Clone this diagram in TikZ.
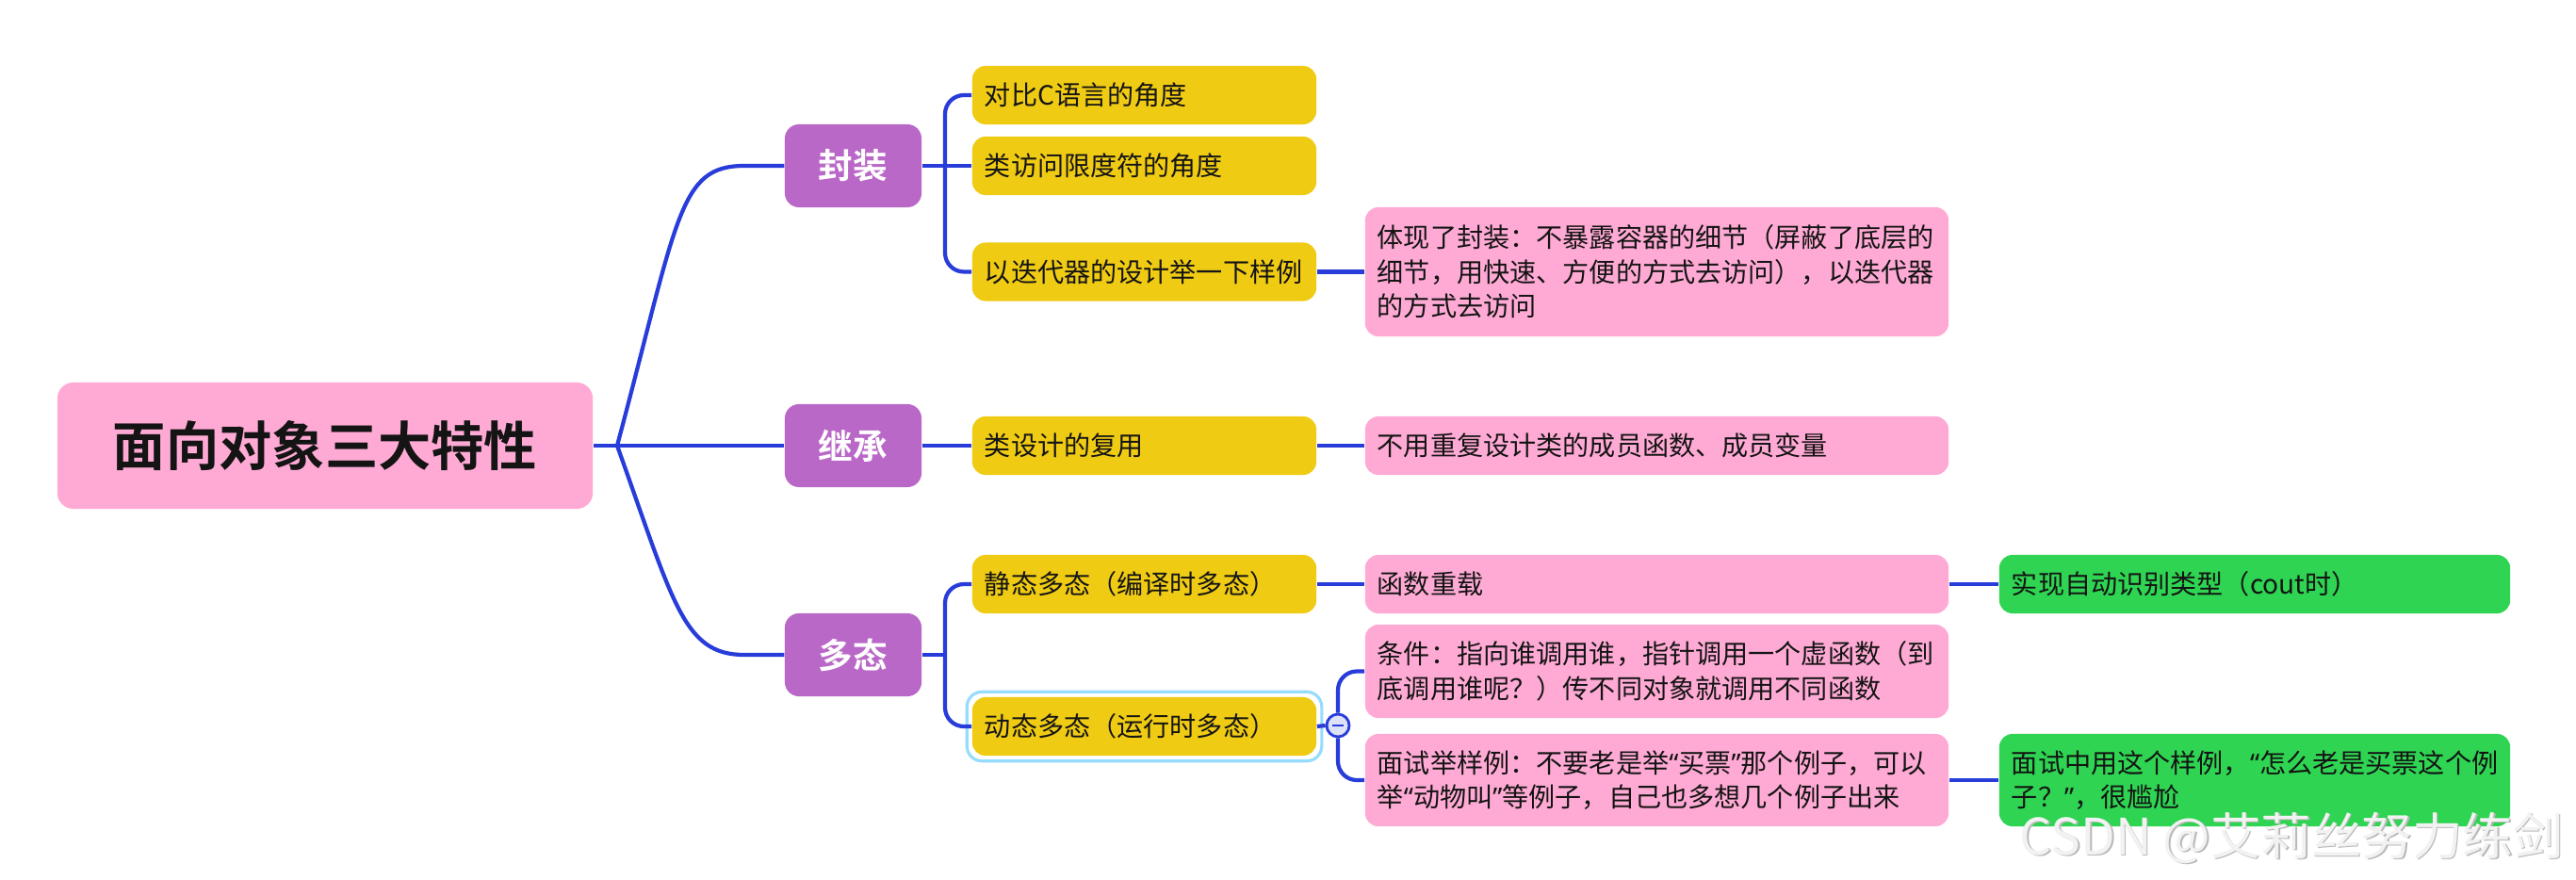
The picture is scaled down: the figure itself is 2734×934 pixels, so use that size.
\documentclass[tikz,border=0pt]{standalone}
\usepackage{fontspec}
\setmainfont{Noto Sans CJK SC}[BoldFont={Noto Sans CJK SC Bold}]
\newfontfamily\latq{Noto Sans}
\newcommand{\qt}[1]{{\latq #1}}
\usetikzlibrary{calc}
\definecolor{yel}{RGB}{240,203,20}
\definecolor{pinkc}{RGB}{255,170,212}
\definecolor{purp}{RGB}{186,104,200}
\definecolor{grn}{RGB}{46,212,82}
\definecolor{lineblue}{RGB}{40,60,218}
\definecolor{selc}{RGB}{150,220,255}
\definecolor{cfill}{RGB}{222,226,248}
\definecolor{txt}{RGB}{20,20,20}
\begin{document}
\begin{tikzpicture}[x=0.01cm,y=-0.01cm,
  conn/.style={draw=lineblue, line width=1.2pt},
  rootbox/.style={fill=pinkc, rounded corners=0.17cm, minimum width=5.68cm, minimum height=1.34cm, inner sep=0, font=\fontsize{16}{18}\selectfont\bfseries, text=txt},
  lonebox/.style={fill=purp, rounded corners=0.15cm, minimum width=1.45cm, minimum height=0.88cm, inner sep=0, font=\fontsize{10.4}{12}\selectfont\bfseries, text=white},
  ltwobox/.style={fill=yel, rounded corners=0.14cm, text width=3.39cm, inner xsep=0.13cm, inner ysep=0, minimum height=0.62cm, align=left, font=\fontsize{8}{10.4}\selectfont, text=txt},
  pbox/.style={fill=pinkc, rounded corners=0.14cm, text width=5.93cm, inner xsep=0.13cm, inner ysep=0, minimum height=0.62cm, align=left, font=\fontsize{8}{10.4}\selectfont, text=txt},
  gbox/.style={fill=grn, rounded corners=0.14cm, text width=5.16cm, inner xsep=0.13cm, inner ysep=0, minimum height=0.62cm, align=left, font=\fontsize{8}{10.4}\selectfont, text=txt},
  elbow/.style={conn, rounded corners=0.2cm}
]
\fill[white] (0,0) rectangle (2734,934);
\useasboundingbox (0,0) rectangle (2734,934);

% nodes
\node[rootbox] (root) at (345,473) {面向对象三大特性};
\node[lonebox] (fz) at (905.5,176) {封装};
\node[lonebox] (jc) at (905.5,473) {继承};
\node[lonebox] (dt) at (905.5,695) {多态};

\node[ltwobox] (a1) at (1214.5,101) {对比C语言的角度};
\node[ltwobox] (a2) at (1214.5,176) {类访问限度符的角度};
\node[ltwobox] (a3) at (1214.5,288.5) {以迭代器的设计举一下样例};
\node[ltwobox] (b1) at (1214.5,473) {类设计的复用};
\node[ltwobox] (c1) at (1214.5,620) {静态多态（编译时多态）};
\node[ltwobox] (c2) at (1214.5,771) {动态多态（运行时多态）};

\node[pbox, minimum height=1.37cm] (p1) at (1758.5,288.5) {体现了封装：不暴露容器的细节（屏蔽了底层的\\细节，用快速、方便的方式去访问），以迭代器\\的方式去访问};
\node[pbox] (p2) at (1758.5,473) {不用重复设计类的成员函数、成员变量};
\node[pbox] (p3) at (1758.5,620) {函数重载};
\node[pbox, minimum height=0.99cm] (p4) at (1758.5,712.5) {条件：指向谁调用谁，指针调用一个虚函数（到\\底调用谁呢？）传不同对象就调用不同函数};
\node[pbox, minimum height=0.98cm] (p5) at (1758.5,828) {面试举样例：不要老是举\qt{“}买票\qt{”}那个例子，可以\\举\qt{“}动物叫\qt{”}等例子，自己也多想几个例子出来};

\node[gbox] (g1) at (2393,620) {实现自动识别类型（cout时）};
\node[gbox, minimum height=0.98cm] (g2) at (2393,828) {面试中用这个样例，\qt{“}怎么老是买票这个例\\子？\qt{”}，很尴尬};

% selection outline
\draw[draw=selc, line width=0.9pt, rounded corners=0.16cm] ($(c2.south west)+(-5,5)$) rectangle ($(c2.north east)+(5,-5)$);

% collapse button
\node[circle, draw=lineblue, fill=cfill, line width=0.8pt, minimum size=0.24cm, inner sep=0] (cc) at (1420,770) {};

% connectors
\coordinate (rf) at (655,473);
\draw[conn] (root.east) -- (rf) -- (jc.west);
\draw[conn] (rf) .. controls (720,230) and (720,176) .. (790,176) -- (fz.west);
\draw[conn] (rf) .. controls (715,640) and (725,695) .. (790,695) -- (dt.west);

\coordinate (ff) at (1003,176);
\draw[conn] (fz.east) -- (ff) -- (a2.west);
\draw[elbow] (ff) |- (a1.west);
\draw[elbow] (ff) |- (a3.west);
\draw[conn] (a3.east) -- (p1.west);

\draw[conn] (jc.east) -- (b1.west);
\draw[conn] (b1.east) -- (p2.west);

\coordinate (df) at (1003,695);
\draw[conn] (dt.east) -- (df);
\draw[elbow] (df) |- (c1.west);
\draw[elbow] (df) |- (c2.west);
\draw[conn] (c1.east) -- (p3.west);
\draw[conn] (p3.east) -- (g1.west);
\draw[conn] (c2.east) -- (cc.west);
\draw[elbow] (cc.north) |- (p4.west);
\draw[elbow] (cc.south) |- (p5.west);
\draw[conn] (p5.east) -- (g2.west);

\draw[lineblue, line width=0.8pt] ($(cc.center)+(-6,0)$) -- ($(cc.center)+(6,0)$);

% watermark
\node[anchor=east, font=\fontsize{15.2}{17}\selectfont, text=gray!55] (wmshadow) at (2734.5,890.5) {CSDN @艾莉丝努力练剑};
\node[anchor=east, font=\fontsize{15.2}{17}\selectfont, text=gray!10] (wm) at (2733,889) {CSDN @艾莉丝努力练剑};
\end{tikzpicture}
\end{document}
